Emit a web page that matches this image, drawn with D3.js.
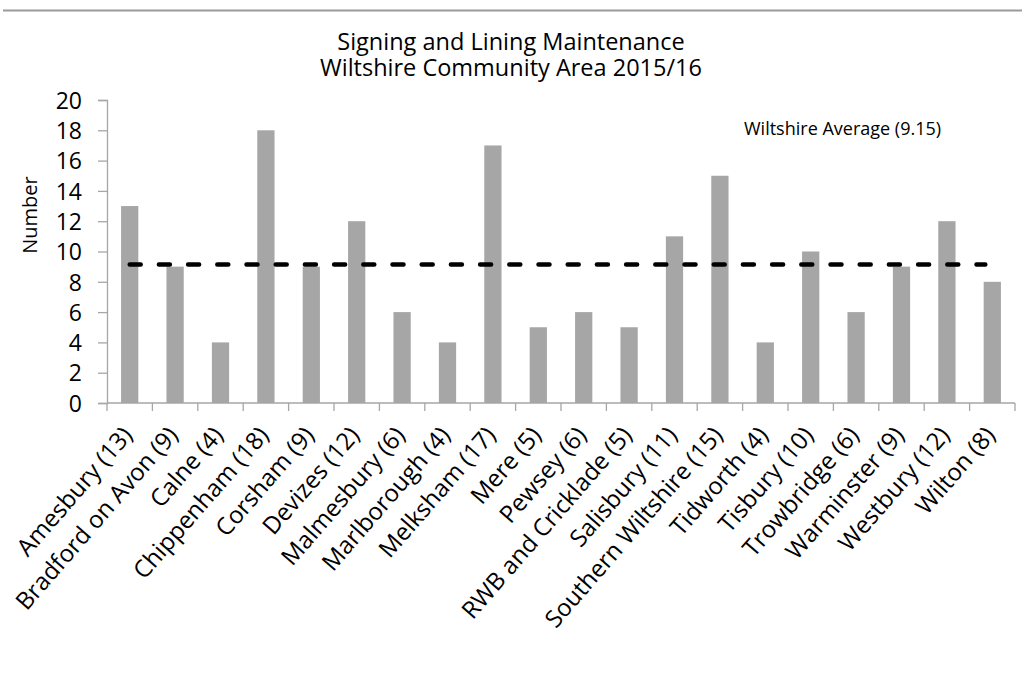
<!DOCTYPE html>
<html>
<head>
<meta charset="utf-8">
<script src="https://cdn.jsdelivr.net/npm/d3@7"></script>
<style>
  body { margin: 0; background: #fff; }
  svg { display: block; }
</style>
</head>
<body>
<svg id="chart" width="1022" height="679"></svg>
<script>
// Community areas and their signing/lining maintenance counts for 2015/16
const areas = ["Amesbury", "Bradford on Avon", "Calne", "Chippenham", "Corsham", "Devizes",
  "Malmesbury", "Marlborough", "Melksham", "Mere", "Pewsey", "RWB and Cricklade", "Salisbury",
  "Southern Wiltshire", "Tidworth", "Tisbury", "Trowbridge", "Warminster", "Westbury", "Wilton"];
const counts = [13, 9, 4, 18, 9, 12, 6, 4, 17, 5, 6, 5, 11, 15, 4, 10, 6, 9, 12, 8];
const wiltshireAverage = 9.15;
const yTicks = [0, 2, 4, 6, 8, 10, 12, 14, 16, 18, 20];
const titleLines = ["Signing and Lining Maintenance", "Wiltshire Community Area 2015/16"];

const svg = d3.select("#chart");
const plot = { left: 107, right: 1015, top: 100, bottom: 403 };
const axisColor = "#a6a6a6";
const font = "'Open Sans', 'DejaVu Sans', sans-serif";

// Frame line across the top
svg.append("line")
  .attr("x1", 3).attr("x2", 1022).attr("y1", 10.5).attr("y2", 10.5)
  .attr("stroke", "#9a9a9a").attr("stroke-width", 2);

const x = d3.scaleBand().domain(areas).range([plot.left, plot.right]).paddingInner(0).paddingOuter(0);
const y = d3.scaleLinear().domain([0, 20]).range([plot.bottom, plot.top]);

// Title, one text element per line
svg.append("g").selectAll("text").data(titleLines).join("text")
  .attr("x", 511).attr("y", (d, i) => 50 + i * 26)
  .attr("text-anchor", "middle")
  .attr("font-family", font)
  .attr("font-size", 23.5).attr("fill", "#000")
  .text(d => d);

// Bars
const barW = x.bandwidth() * 0.38;
svg.append("g").selectAll("rect").data(counts).join("rect")
  .attr("x", (d, i) => x(areas[i]) + x.bandwidth() / 2 - barW / 2)
  .attr("y", d => y(d))
  .attr("width", barW)
  .attr("height", d => y(0) - y(d))
  .attr("fill", "#a6a6a6");

// Y axis
const yAxis = svg.append("g")
  .attr("transform", `translate(${plot.left},0)`)
  .call(d3.axisLeft(y).tickValues(yTicks).tickSize(9).tickPadding(16).tickFormat(d3.format("d")));
yAxis.select(".domain").attr("stroke", axisColor).attr("stroke-width", 1.3);
yAxis.selectAll(".tick line").attr("stroke", axisColor).attr("stroke-width", 1.3);
yAxis.selectAll(".tick text")
  .attr("font-family", font).attr("font-size", 23).attr("fill", "#000").attr("dy", "0.36em");

// X axis: ticks on band boundaries
const xAxisG = svg.append("g").attr("transform", `translate(0,${plot.bottom})`);
xAxisG.append("line")
  .attr("x1", plot.left).attr("x2", plot.right)
  .attr("stroke", axisColor).attr("stroke-width", 1.3);
const boundaries = areas.map(a => x(a)).concat([plot.right]);
xAxisG.selectAll("line.tk").data(boundaries).join("line")
  .attr("class", "tk")
  .attr("x1", d => d).attr("x2", d => d)
  .attr("y1", 0).attr("y2", 8)
  .attr("stroke", axisColor).attr("stroke-width", 1.3);

// Rotated category labels with counts
xAxisG.selectAll("text").data(areas).join("text")
  .attr("transform", d => `translate(${x(d) + x.bandwidth() / 2 + 4},${33}) rotate(-49)`)
  .attr("text-anchor", "end")
  .attr("font-family", font).attr("font-size", 24).attr("fill", "#000")
  .text((d, i) => `${d} (${counts[i]})`);

// Y axis title
svg.append("text")
  .attr("transform", `translate(37,215) rotate(-90)`)
  .attr("text-anchor", "middle")
  .attr("font-family", font).attr("font-size", 20).attr("fill", "#000")
  .text("Number");

// Average line
svg.append("line")
  .attr("x1", x(areas[0]) + x.bandwidth() / 2)
  .attr("x2", x(areas[areas.length - 1]) + x.bandwidth() / 2 - 7)
  .attr("y1", y(wiltshireAverage)).attr("y2", y(wiltshireAverage))
  .attr("stroke", "#000").attr("stroke-width", 4.5)
  .attr("stroke-linecap", "round")
  .attr("stroke-dasharray", "11,18.2");

svg.append("text")
  .attr("x", 744).attr("y", 135)
  .attr("font-family", font).attr("font-size", 18).attr("fill", "#000")
  .text(`Wiltshire Average (${wiltshireAverage})`);
</script>
</body>
</html>
